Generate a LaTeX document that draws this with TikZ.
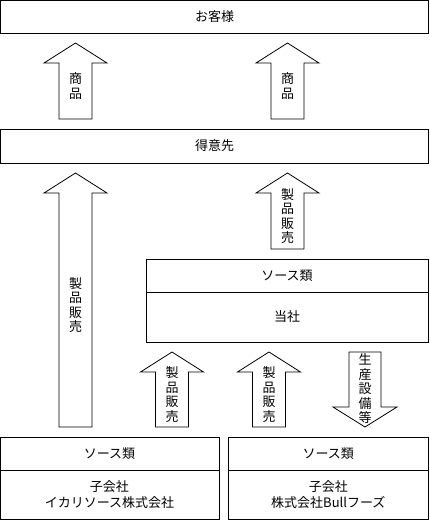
\documentclass[tikz,border=0pt]{standalone}
\usepackage{fontspec}
\setmainfont{Noto Sans CJK JP}
\usetikzlibrary{positioning}

\begin{document}
\begin{tikzpicture}[
  x = 1pt,
  y = -1pt,
  box/.style = {
    draw,
    line width = 0.8pt,
    minimum height = 33pt,
    inner sep = 0pt,
    outer sep = 0pt,
    align = center,
    font = \fontsize{13}{16}\selectfont
  },
  blk/.style = {
    draw,
    line width = 0.8pt,
    fill = white
  },
  lbl/.style = {
    align = center,
    inner sep = 0pt,
    font = \fontsize{13}{14.5}\selectfont
  }
]
  \useasboundingbox (0, 0) rectangle (430, 520);

  \node[box, minimum width = 428pt] (cust) at (214.5, 16.5) {お客様};
  \node[box, minimum width = 428pt, minimum height = 34pt] (dealer) at (214.5, 146) {得意先};

  \node[box, minimum width = 282pt] (src1) at (287, 275.5) {ソース類};
  \node[box, minimum width = 282pt, minimum height = 50pt, below = 0pt of src1] (self) {当社};

  \node[box, minimum width = 219pt] (src2) at (109.5, 453.5) {ソース類};
  \node[box, minimum width = 219pt, minimum height = 49pt, below = 0pt of src2] (sub1) {子会社\\イカリソース株式会社};

  \node[box, minimum width = 200pt] (src3) at (328.3, 453.5) {ソース類};
  \node[box, minimum width = 200pt, minimum height = 49pt, below = 0pt of src3] (sub2) {子会社\\株式会社Bullフーズ};

  \foreach \nm/\cx/\tip/\tail/\len in {
    goods1/75.5/43/119/2,
    goods2/287.5/43/119/2,
    sale1/75.5/173/427/4,
    sale2/287.5/173/249/4,
    sale3/172/352/427/4,
    sale4/269/352/427/4
  } {
    \draw[blk] (\cx-16.5, \tail) -- (\cx-16.5, \tip+20) -- (\cx-31.5, \tip+20) -- (\cx, \tip)
      -- (\cx+31.5, \tip+20) -- (\cx+16.5, \tip+20) -- (\cx+16.5, \tail) -- cycle;
    \ifnum\len=2
      \node[lbl] (\nm) at (\cx, {(\tip+20+\tail)/2-5}) {商\\品};
    \else
      \node[lbl] (\nm) at (\cx, {(\tip+20+\tail)/2-5}) {製\\品\\販\\売};
    \fi
  }

  \draw[blk] (349, 352) -- (381, 352) -- (381, 407) -- (397, 407) -- (365, 427)
    -- (333, 407) -- (349, 407) -- cycle;
  \node[lbl] (equip) at (365, 389) {生\\産\\設\\備\\等};
\end{tikzpicture}
\end{document}
